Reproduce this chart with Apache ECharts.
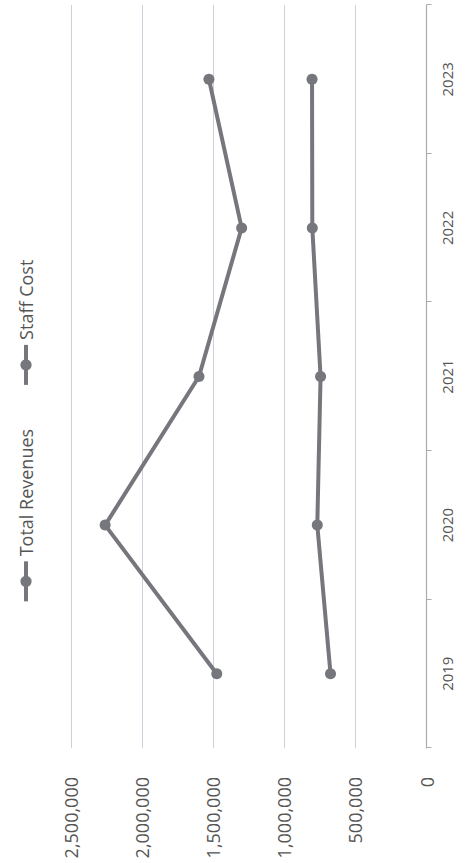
<!DOCTYPE html>
<html>
<head>
<meta charset="utf-8">
<script src="https://cdn.jsdelivr.net/npm/echarts@6/dist/echarts.min.js"></script>
<style>
  html, body { margin: 0; padding: 0; width: 472px; height: 863px; overflow: hidden; background: #ffffff; }
  #chart {
    position: absolute; left: 0; top: 0;
    width: 863px; height: 472px;
    transform-origin: 0 0;
    transform: translate(0px, 863px) rotate(-90deg);
  }
</style>
</head>
<body>
<div id="chart"></div>
<script>
const categories = ['2019', '2020', '2021', '2022', '2023'];
const totalRevenues = [1475000, 2260000, 1600000, 1300000, 1530000];
const staffCost = [675000, 768000, 745000, 803000, 805000];
const valueTicks = [0, 500000, 1000000, 1500000, 2000000, 2500000];
const seriesNames = ['Total Revenues', 'Staff Cost'];

const lineColor = '#76777c';
const textColor = '#555555';
const font = 'Open Sans';

const chart = echarts.init(document.getElementById('chart'), null, { renderer: 'svg' });
chart.setOption({
  backgroundColor: '#ffffff',
  animation: false,
  legend: {
    data: seriesNames,
    top: 12,
    left: 'center',
    itemWidth: 40,
    itemHeight: 14,
    itemGap: 42,
    lineStyle: { width: 4, color: lineColor },
    itemStyle: { color: lineColor },
    textStyle: { color: textColor, fontSize: 18, fontFamily: font }
  },
  grid: { left: 115, right: 5, top: 71, bottom: 45.5, containLabel: false },
  xAxis: {
    type: 'category',
    data: categories,
    boundaryGap: true,
    axisLine: { show: true, lineStyle: { color: '#a9abb3', width: 1.2 } },
    axisTick: { show: true, length: 5, lineStyle: { color: '#a9abb3' } },
    axisLabel: { color: textColor, fontSize: 15, fontFamily: font, margin: 13 },
    splitLine: { show: false }
  },
  yAxis: {
    type: 'value',
    min: valueTicks[0],
    max: valueTicks[valueTicks.length - 1],
    interval: valueTicks[1] - valueTicks[0],
    axisLine: { show: false },
    axisTick: { show: false },
    axisLabel: {
      color: textColor, fontSize: 18, fontFamily: font, margin: 29,
      formatter: v => v.toLocaleString('en-US')
    },
    splitLine: { show: true, lineStyle: { color: '#cdd0da', width: 1 } }
  },
  series: [
    {
      name: seriesNames[0], type: 'line', data: totalRevenues,
      symbol: 'circle', symbolSize: 11,
      lineStyle: { color: lineColor, width: 4 },
      itemStyle: { color: lineColor }
    },
    {
      name: seriesNames[1], type: 'line', data: staffCost,
      symbol: 'circle', symbolSize: 11,
      lineStyle: { color: lineColor, width: 4 },
      itemStyle: { color: lineColor }
    }
  ]
});
</script>
</body>
</html>
